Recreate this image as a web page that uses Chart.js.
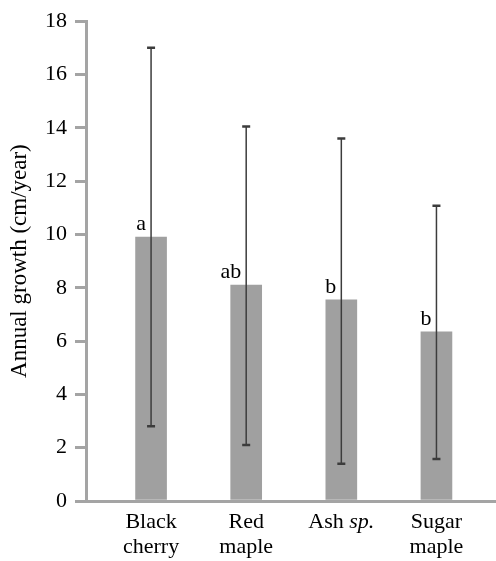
<!DOCTYPE html>
<html>
<head>
<meta charset="utf-8">
<script src="https://cdn.jsdelivr.net/npm/chart.js@4/dist/chart.umd.min.js"></script>
<style>
  body { margin: 0; background: #fff; }
  canvas { display: block; }
</style>
</head>
<body>
<canvas id="chartGrowth" width="496" height="561"></canvas>
<script>
// species on the x axis (one entry per line of the label)
const species = [['Black', 'cherry'], ['Red', 'maple'], ['Ash sp.'], ['Sugar', 'maple']];
// mean annual growth (cm/year)
const growth = [9.9, 8.1, 7.55, 6.35];
// error bar ends
const errLow = [2.8, 2.1, 1.4, 1.58];
const errHigh = [17.0, 14.05, 13.6, 11.08];
// significance letters
const letters = ['a', 'ab', 'b', 'b'];

const serif = '"Liberation Serif", "Times New Roman", serif';
const axisGrey = '#a4a4a4';

const points = growth.map((v, i) => ({ x: i, y: v }));

// error bars + letters over the bars
const extrasPlugin = {
    id: 'extras',
    afterDatasetsDraw(chart) {
        const ctx = chart.ctx;
        const xs = chart.scales.x, ys = chart.scales.y;
        ctx.save();
        for (let i = 0; i < growth.length; i++) {
            const x = xs.getPixelForValue(i);
            const yTop = ys.getPixelForValue(errHigh[i]);
            const yBot = ys.getPixelForValue(errLow[i]);
            ctx.strokeStyle = '#3c3c3c';
            ctx.lineWidth = 1.5;
            ctx.beginPath();
            ctx.moveTo(x, yTop);
            ctx.lineTo(x, yBot);
            ctx.stroke();
            ctx.lineWidth = 2.5;
            ctx.beginPath();
            ctx.moveTo(x - 4, yTop);
            ctx.lineTo(x + 4, yTop);
            ctx.moveTo(x - 4, yBot);
            ctx.lineTo(x + 4, yBot);
            ctx.stroke();

            // letter
            const yBar = ys.getPixelForValue(growth[i]);
            ctx.fillStyle = '#000';
            ctx.font = '22px ' + serif;
            ctx.textAlign = 'right';
            ctx.textBaseline = 'alphabetic';
            ctx.fillText(letters[i], x - 5, yBar - 7);
        }
        ctx.restore();
    },
    afterDraw(chart) {
        // category labels, "sp." in italics
        const ctx = chart.ctx;
        const xs = chart.scales.x;
        const base = chart.chartArea.bottom;
        ctx.save();
        ctx.fillStyle = '#000';
        ctx.textBaseline = 'alphabetic';
        ctx.textAlign = 'left';
        species.forEach((lines, i) => {
            const cx = xs.getPixelForValue(i);
            lines.forEach((line, j) => {
                const words = line.split(' ');
                const fonts = words.map(w => (w === 'sp.' ? 'italic ' : '') + '22px ' + serif);
                ctx.font = '22px ' + serif;
                const space = ctx.measureText(' ').width;
                const widths = words.map((w, k) => { ctx.font = fonts[k]; return ctx.measureText(w).width; });
                const total = widths.reduce((a, b) => a + b, 0) + space * (words.length - 1);
                let x = cx - total / 2;
                const y = base + 27 + j * 25;
                words.forEach((w, k) => {
                    ctx.font = fonts[k];
                    ctx.fillText(w, x, y);
                    x += widths[k] + space;
                });
            });
        });
        ctx.restore();
    }
};

new Chart(document.getElementById('chartGrowth'), {
    type: 'bar',
    data: {
        datasets: [{
            data: points,
            backgroundColor: '#a0a0a0',
            borderWidth: 0,
            barThickness: 31
        }]
    },
    options: {
        responsive: false,
        animation: false,
        layout: { padding: { left: 0, right: 0, top: 18, bottom: 0 } },
        plugins: {
            legend: { display: false },
            tooltip: { enabled: false }
        },
        scales: {
            x: {
                type: 'linear',
                min: -0.684,
                max: 3.626,
                offset: false,
                ticks: { display: false },
                grid: { display: false, offset: false },
                border: { display: true, color: axisGrey, width: 3 },
                afterFit(scale) { scale.height = 60; }
            },
            y: {
                min: 0,
                max: 18,
                ticks: {
                    stepSize: 2,
                    color: '#000',
                    padding: 8,
                    font: { family: serif, size: 22 }
                },
                grid: {
                    drawOnChartArea: false,
                    drawTicks: true,
                    tickLength: 11,
                    color: axisGrey,
                    lineWidth: 3
                },
                border: { display: true, color: axisGrey, width: 3 },
                title: {
                    display: true,
                    text: 'Annual growth (cm/year)',
                    color: '#000',
                    font: { family: serif, size: 23 },
                    padding: { top: 6, bottom: 0 }
                },
                afterFit(scale) { scale.width = 86; }
            }
        }
    },
    plugins: [extrasPlugin]
});
</script>
</body>
</html>
